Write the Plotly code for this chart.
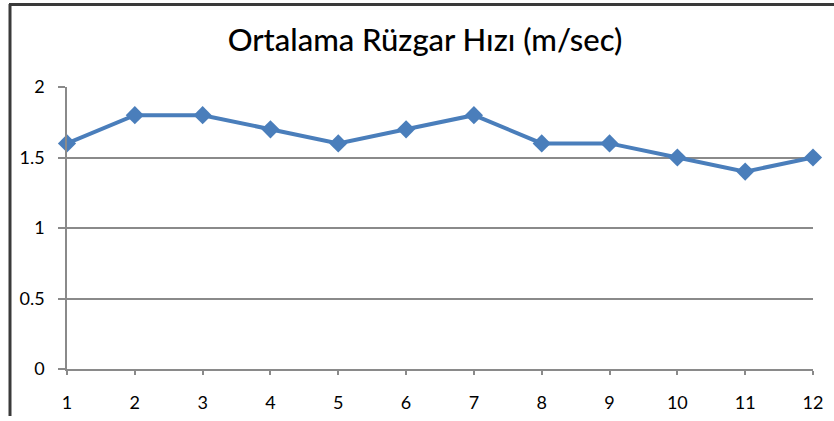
import plotly.graph_objects as go

months = [1, 2, 3, 4, 5, 6, 7, 8, 9, 10, 11, 12]
wind_speed = [1.6, 1.8, 1.8, 1.7, 1.6, 1.7, 1.8, 1.6, 1.6, 1.5, 1.4, 1.5]
y_ticks = [0, 0.5, 1, 1.5, 2]
y_tick_labels = ["0", "0.5", "1", "1.5", "2"]
title_text = "Ortalama Rüzgar Hızı (m/sec)"

W, H = 834, 421
L, R, T, B = 67, 21, 87, 52
pw, ph = W - L - R, H - T - B

def px_x(x):
    return (x - L) / pw

def px_y(y):
    return (H - B - y) / ph

fig = go.Figure()
fig.add_trace(go.Scatter(
    x=months, y=wind_speed, mode="lines+markers",
    line=dict(color="#4A7EBB", width=4),
    marker=dict(symbol="diamond", size=14, color="#4A7EBB"),
    cliponaxis=False, showlegend=False,
))

frame_color = "#3a3a3a"
fig.add_shape(type="rect", xref="paper", yref="paper", layer="above",
              x0=px_x(9), x1=px_x(834), y0=px_y(6), y1=px_y(3),
              fillcolor=frame_color, line=dict(width=0))
fig.add_shape(type="line", xref="paper", yref="paper", layer="above",
              x0=px_x(10), x1=px_x(10), y0=px_y(4), y1=px_y(416),
              line=dict(color=frame_color, width=3))

fig.update_layout(
    width=W, height=H,
    margin=dict(l=L, r=R, t=T, b=B, autoexpand=False),
    paper_bgcolor="white", plot_bgcolor="white",
    title=dict(text=title_text, x=425 / W, xanchor="center",
               y=1 - 40 / H, yanchor="middle",
               font=dict(family="Lato", size=31, color="#000000", weight=500)),
    font=dict(family="Lato", size=18, color="#000000"),
    xaxis=dict(range=[1, 12], tickvals=months, ticktext=[str(m) for m in months],
               showgrid=False, zeroline=False, showline=True, linecolor="#8a8a8a",
               linewidth=1.5, ticks="outside", ticklen=4, tickcolor="#8a8a8a",
               tickwidth=1.5, ticklabelstandoff=13, fixedrange=True, automargin=False),
    yaxis=dict(range=[0, 2], tickvals=y_ticks, ticktext=y_tick_labels,
               showgrid=True, gridcolor="#8a8a8a", gridwidth=1.5, zeroline=False,
               showline=True, linecolor="#8a8a8a", linewidth=1.5,
               ticks="outside", ticklen=7, tickcolor="#8a8a8a", tickwidth=1.5,
               ticklabelstandoff=10, fixedrange=True, automargin=False),
)

fig.write_html(
    "out.html",
    config={"displayModeBar": False},
    post_script=(
        "document.documentElement.style.margin='0';"
        "document.body.style.margin='0';document.body.style.padding='0';"
        "document.body.style.overflow='hidden';"
        "var gd=document.getElementById('{plot_id}');"
        "gd.style.position='fixed';gd.style.top='0px';gd.style.left='0px';"
        "var fr=document.createElement('div');"
        "fr.style.cssText='position:fixed;left:9px;top:3px;width:825px;height:3px;"
        "background:" + frame_color + ";pointer-events:none;z-index:10;';"
        "document.body.appendChild(fr);"
        "window.scrollTo(0,0);"
    ),
)
